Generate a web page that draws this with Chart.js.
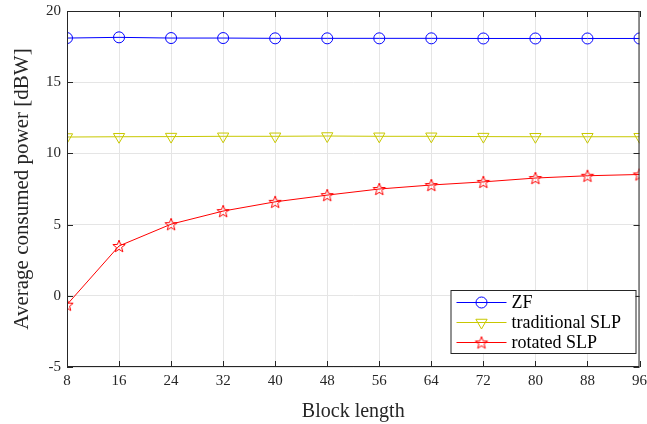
<!DOCTYPE html>
<html>
<head>
<meta charset="utf-8">
<script src="https://cdn.jsdelivr.net/npm/chart.js@4"></script>
<style>
  html, body { margin: 0; padding: 0; background: #fff; }
  #wrap { width: 647px; height: 424px; }
</style>
</head>
<body>
<div id="wrap"><canvas id="chart" width="647" height="424"></canvas></div>
<script>
// data
const blockLengths = [8, 16, 24, 32, 40, 48, 56, 64, 72, 80, 88, 96];
const zfPower = [18.1, 18.15, 18.1, 18.1, 18.08, 18.08, 18.08, 18.08, 18.07, 18.07, 18.07, 18.07];
const tradSlpPower = [11.15, 11.17, 11.18, 11.2, 11.2, 11.22, 11.2, 11.2, 11.18, 11.17, 11.17, 11.17];
const rotSlpPower = [-0.62, 3.5, 5.03, 5.95, 6.6, 7.07, 7.5, 7.78, 8.0, 8.27, 8.43, 8.52];
const yTicks = [-5, 0, 5, 10, 15, 20];

const FONT = "'Liberation Serif', 'Times New Roman', serif";

// 5-point open star as a point image
function starImage(color, r) {
  const c = document.createElement('canvas');
  const s = Math.ceil(r * 2 + 3);
  c.width = s; c.height = s;
  const g = c.getContext('2d');
  g.strokeStyle = color;
  g.lineWidth = 1;
  g.beginPath();
  for (let i = 0; i < 10; i++) {
    const rad = i % 2 === 0 ? r : r * 0.42;
    const a = -Math.PI / 2 + i * Math.PI / 5;
    const px = s / 2 + rad * Math.cos(a), py = s / 2 + 0.6 + rad * Math.sin(a);
    if (i === 0) g.moveTo(px, py); else g.lineTo(px, py);
  }
  g.closePath();
  g.stroke();
  return c;
}
const redStar = starImage('#ff0000', 6.5);

const series = [
  { label: 'ZF', data: zfPower, color: '#0000ff', style: 'circle', radius: 5.5, rot: 0 },
  { label: 'traditional SLP', data: tradSlpPower, color: '#c8c800', style: 'triangle', radius: 6.5, rot: 180 },
  { label: 'rotated SLP', data: rotSlpPower, color: '#ff0000', style: redStar, radius: 6.5, rot: 0 }
];

// box frame + inward ticks, matlab style
const boxPlugin = {
  id: 'box',
  afterDraw(chart) {
    const { ctx, chartArea: a, scales } = chart;
    ctx.save();
    ctx.strokeStyle = '#262626';
    ctx.lineWidth = 1;
    ctx.strokeRect(a.left + 0.5, a.top + 0.5, a.right - a.left - 1, a.bottom - a.top - 1);
    ctx.beginPath();
    scales.x.ticks.forEach(t => {
      const px = Math.round(scales.x.getPixelForValue(t.value)) + 0.5;
      ctx.moveTo(px, a.bottom); ctx.lineTo(px, a.bottom - 6);
      ctx.moveTo(px, a.top); ctx.lineTo(px, a.top + 6);
    });
    scales.y.ticks.forEach(t => {
      const py = Math.round(scales.y.getPixelForValue(t.value)) + 0.5;
      ctx.moveTo(a.left, py); ctx.lineTo(a.left + 6, py);
      ctx.moveTo(a.right, py); ctx.lineTo(a.right - 6, py);
    });
    ctx.stroke();
    ctx.restore();
  }
};

// legend box in the lower right corner
const legendPlugin = {
  id: 'boxLegend',
  afterDraw(chart) {
    const { ctx, chartArea: a } = chart;
    const w = 185, h = 63;
    const x0 = a.right - 4 - w, y0 = a.bottom - 14 - h;
    ctx.save();
    ctx.fillStyle = '#fff';
    ctx.fillRect(x0, y0, w, h);
    ctx.strokeStyle = '#262626';
    ctx.lineWidth = 1;
    ctx.strokeRect(x0 + 0.5, y0 + 0.5, w, h);
    ctx.textBaseline = 'middle';
    series.forEach((s, i) => {
      const y = y0 + 12 + i * 20;
      ctx.strokeStyle = s.color;
      ctx.beginPath();
      ctx.moveTo(x0 + 6, y + 0.5); ctx.lineTo(x0 + 56, y + 0.5);
      ctx.stroke();
      ctx.fillStyle = 'rgba(0,0,0,0)';
      Chart.helpers.drawPoint(ctx, {
        pointStyle: s.style, radius: s.radius, rotation: s.rot, borderWidth: 1
      }, x0 + 31, y + 0.5);
      ctx.fillStyle = '#000';
      ctx.font = '18px ' + FONT;
      ctx.fillText(s.label, x0 + 61, y + 1);
    });
    ctx.restore();
  }
};

new Chart(document.getElementById('chart'), {
  type: 'line',
  data: {
    labels: blockLengths,
    datasets: series.map(s => ({
      label: s.label,
      data: blockLengths.map((b, i) => ({ x: b, y: s.data[i] })),
      borderColor: s.color,
      backgroundColor: 'rgba(0,0,0,0)',
      borderWidth: 1,
      pointStyle: s.style,
      pointRadius: s.radius,
      pointRotation: s.rot,
      pointBorderColor: s.color,
      pointBorderWidth: 1,
      pointBackgroundColor: 'rgba(0,0,0,0)',
      tension: 0
    }))
  },
  options: {
    responsive: false,
    animation: false,
    layout: { padding: { left: 0, right: 7, top: 11, bottom: 0 } },
    plugins: { legend: { display: false }, tooltip: { enabled: false } },
    scales: {
      x: {
        type: 'linear',
        min: 8, max: 96,
        afterBuildTicks: s => { s.ticks = blockLengths.map(v => ({ value: v })); },
        afterFit: s => { s.height = 57; s.paddingLeft = 0; s.paddingRight = 0; },
        grid: { color: '#e5e5e5', drawTicks: false },
        border: { display: false },
        ticks: { color: '#262626', font: { family: FONT, size: 15 }, padding: 5, maxRotation: 0 },
        title: { display: true, text: 'Block length', color: '#262626', font: { family: FONT, size: 20 }, padding: { top: 4, bottom: 0 } }
      },
      y: {
        min: -5, max: 20,
        afterBuildTicks: s => { s.ticks = yTicks.map(v => ({ value: v })); },
        afterFit: s => { s.width = 67; s.paddingTop = 0; s.paddingBottom = 0; },
        grid: { color: '#e5e5e5', drawTicks: false },
        border: { display: false },
        ticks: { color: '#262626', font: { family: FONT, size: 15 }, padding: 6 },
        title: { display: true, text: 'Average consumed power [dBW]', color: '#262626', font: { family: FONT, size: 21 }, padding: { top: 10, bottom: 4 } }
      }
    }
  },
  plugins: [boxPlugin, legendPlugin]
});
</script>
</body>
</html>
